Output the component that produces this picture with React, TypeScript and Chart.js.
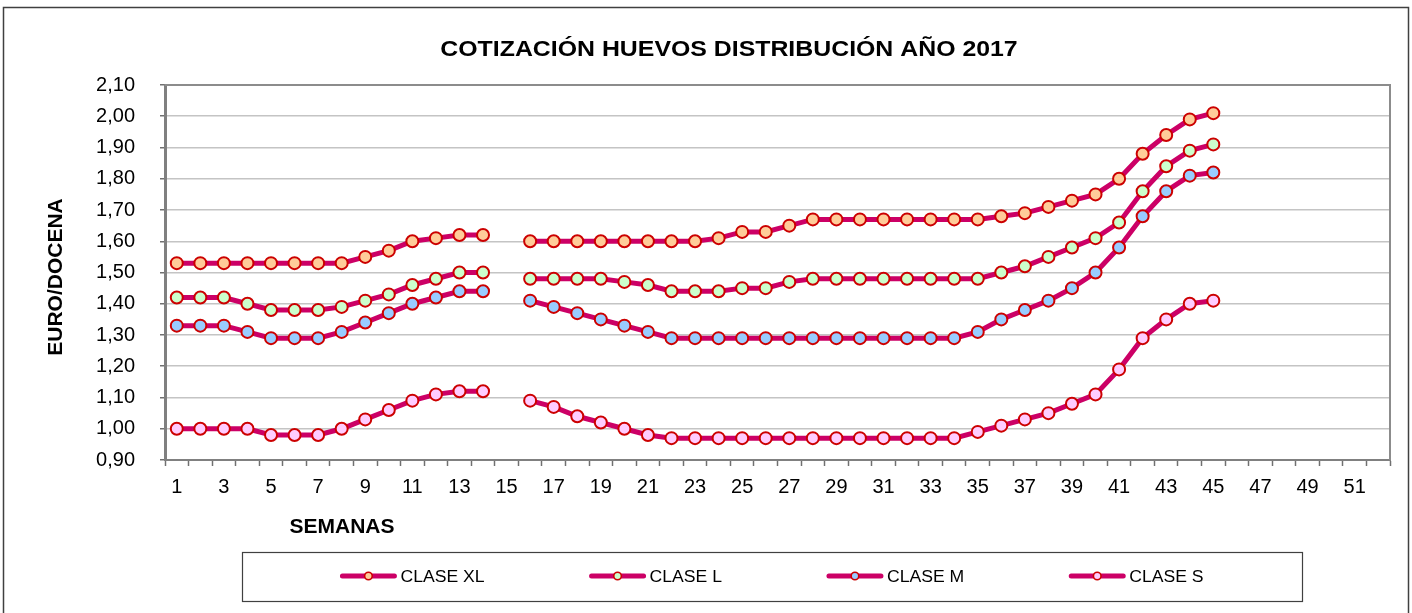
import React, { useEffect, useRef } from 'react';
import { Chart, registerables } from 'chart.js';

Chart.register(...registerables);

const TITLE = 'COTIZACIÓN HUEVOS DISTRIBUCIÓN AÑO 2017';
const Y_TITLE = 'EURO/DOCENA';
const X_TITLE = 'SEMANAS';

const WEEKS = [
  '1', '2', '3', '4', '5', '6', '7', '8', '9', '10', '11', '12', '13',
  '14', '15', '16', '17', '18', '19', '20', '21', '22', '23', '24', '25', '26',
  '27', '28', '29', '30', '31', '32', '33', '34', '35', '36', '37', '38', '39',
  '40', '41', '42', '43', '44', '45', '46', '47', '48', '49', '50', '51', '52',
];

const SERIES_NAMES = ['CLASE XL', 'CLASE L', 'CLASE M', 'CLASE S'];

const CLASE_XL = [
  1.53, 1.53, 1.53, 1.53, 1.53, 1.53, 1.53, 1.53, 1.55, 1.57, 1.6, 1.61, 1.62, 1.62,
  null,
  1.6, 1.6, 1.6, 1.6, 1.6, 1.6, 1.6, 1.6, 1.61, 1.63, 1.63, 1.65, 1.67, 1.67, 1.67,
  1.67, 1.67, 1.67, 1.67, 1.67, 1.68, 1.69, 1.71, 1.73, 1.75, 1.8, 1.88, 1.94, 1.99, 2.01,
];
const CLASE_L = [
  1.42, 1.42, 1.42, 1.4, 1.38, 1.38, 1.38, 1.39, 1.41, 1.43, 1.46, 1.48, 1.5, 1.5,
  null,
  1.48, 1.48, 1.48, 1.48, 1.47, 1.46, 1.44, 1.44, 1.44, 1.45, 1.45, 1.47, 1.48, 1.48, 1.48,
  1.48, 1.48, 1.48, 1.48, 1.48, 1.5, 1.52, 1.55, 1.58, 1.61, 1.66, 1.76, 1.84, 1.89, 1.91,
];
const CLASE_M = [
  1.33, 1.33, 1.33, 1.31, 1.29, 1.29, 1.29, 1.31, 1.34, 1.37, 1.4, 1.42, 1.44, 1.44,
  null,
  1.41, 1.39, 1.37, 1.35, 1.33, 1.31, 1.29, 1.29, 1.29, 1.29, 1.29, 1.29, 1.29, 1.29, 1.29,
  1.29, 1.29, 1.29, 1.29, 1.31, 1.35, 1.38, 1.41, 1.45, 1.5, 1.58, 1.68, 1.76, 1.81, 1.82,
];
const CLASE_S = [
  1.0, 1.0, 1.0, 1.0, 0.98, 0.98, 0.98, 1.0, 1.03, 1.06, 1.09, 1.11, 1.12, 1.12,
  null,
  1.09, 1.07, 1.04, 1.02, 1.0, 0.98, 0.97, 0.97, 0.97, 0.97, 0.97, 0.97, 0.97, 0.97, 0.97,
  0.97, 0.97, 0.97, 0.97, 0.99, 1.01, 1.03, 1.05, 1.08, 1.11, 1.19, 1.29, 1.35, 1.4, 1.41,
];

const Y_MIN = 0.9;
const Y_MAX = 2.1;
const Y_STEP = 0.1;

const LINE_COLOR = '#cc0066';
const POINT_BORDER = '#cc0000';
const FILLS = ['#ffcc99', '#ccffcc', '#99ccff', '#ffccff'];
const FONT = '"Liberation Sans", Arial, Helvetica, sans-serif';

function drawText(
  ctx: CanvasRenderingContext2D,
  text: string,
  x: number,
  y: number,
  font: string,
  align: 'left' | 'center' | 'right',
  sx: number
) {
  ctx.save();
  ctx.font = font;
  ctx.textBaseline = 'alphabetic';
  ctx.textAlign = 'left';
  const w = ctx.measureText(text).width * sx;
  const left = align === 'center' ? x - w / 2 : align === 'right' ? x - w : x;
  ctx.translate(left, y);
  ctx.scale(sx, 1);
  ctx.fillStyle = '#000';
  ctx.fillText(text, 0, 0);
  ctx.restore();
  return w;
}

const decorPlugin = {
  id: 'decor',
  beforeDatasetsDraw(chart: any) {
    const { ctx, chartArea } = chart;
    ctx.save();
    ctx.strokeStyle = '#8c8c8c';
    ctx.lineWidth = 2;
    ctx.beginPath();
    ctx.moveTo(chartArea.left, chartArea.top);
    ctx.lineTo(chartArea.right, chartArea.top);
    ctx.lineTo(chartArea.right, chartArea.bottom);
    ctx.stroke();
    ctx.restore();
  },
  afterDraw(chart: any) {
    const { ctx } = chart;
    // outer frame
    ctx.save();
    ctx.strokeStyle = '#404040';
    ctx.lineWidth = 1.5;
    ctx.strokeRect(3.5, 7.5, 1405, 700);
    ctx.restore();

    // title
    drawText(ctx, TITLE, 729, 56, `bold 22px ${FONT}`, 'center', 1.13);

    // y axis title
    ctx.save();
    ctx.translate(62, 277);
    ctx.rotate(-Math.PI / 2);
    ctx.font = `bold 21px ${FONT}`;
    ctx.textAlign = 'center';
    ctx.textBaseline = 'alphabetic';
    ctx.fillStyle = '#000';
    ctx.fillText(Y_TITLE, 0, 0);
    ctx.restore();

    // x axis title
    drawText(ctx, X_TITLE, 342, 533, `bold 21px ${FONT}`, 'center', 1);

    // legend
    const boxL = 242, boxR = 1302, boxT = 552, boxB = 601;
    ctx.save();
    ctx.strokeStyle = '#404040';
    ctx.lineWidth = 1.2;
    ctx.strokeRect(boxL + 0.5, boxT + 0.5, boxR - boxL, boxB - boxT);
    ctx.restore();

    const legendFont = `16px ${FONT}`;
    const sx = 1.1;
    const lineLen = 56;
    const gapText = 4;
    const gapItems = 105;
    ctx.save();
    ctx.font = legendFont;
    const ds = chart.data.datasets;
    const widths = ds.map((d: any) => lineLen + gapText + ctx.measureText(d.label).width * sx);
    ctx.restore();
    const total = widths.reduce((a: number, b: number) => a + b, 0) + gapItems * (ds.length - 1);
    let x = (boxL + boxR) / 2 - total / 2;
    const cy = 576;
    ds.forEach((d: any, i: number) => {
      ctx.save();
      ctx.strokeStyle = d.borderColor;
      ctx.lineWidth = 5;
      ctx.lineCap = 'round';
      ctx.beginPath();
      ctx.moveTo(x + 2, cy);
      ctx.lineTo(x + lineLen - 2, cy);
      ctx.stroke();
      ctx.beginPath();
      ctx.arc(x + lineLen / 2, cy, 3.8, 0, Math.PI * 2);
      ctx.fillStyle = d.pointBackgroundColor;
      ctx.fill();
      ctx.strokeStyle = d.pointBorderColor;
      ctx.lineWidth = 1.6;
      ctx.stroke();
      ctx.restore();
      drawText(ctx, d.label, x + lineLen + gapText, cy + 6, legendFont, 'left', sx);
      x += widths[i] + gapItems;
    });
  },
};

function makeDataset(label: string, data: (number | null)[], fill: string) {
  return {
    label,
    data,
    borderColor: LINE_COLOR,
    backgroundColor: fill,
    borderWidth: 5,
    pointRadius: 6,
    pointBorderWidth: 2,
    pointBorderColor: POINT_BORDER,
    pointBackgroundColor: fill,
    spanGaps: false,
    tension: 0,
    fill: false,
  };
}

export default function App() {
  const ref = useRef<HTMLCanvasElement | null>(null);

  useEffect(() => {
    document.body.style.margin = '0';
    const canvas = ref.current;
    if (!canvas) return;
    const chart = new Chart(canvas, {
      type: 'line',
      data: {
        labels: WEEKS,
        datasets: [
          makeDataset(SERIES_NAMES[0], CLASE_XL, FILLS[0]),
          makeDataset(SERIES_NAMES[1], CLASE_L, FILLS[1]),
          makeDataset(SERIES_NAMES[2], CLASE_M, FILLS[2]),
          makeDataset(SERIES_NAMES[3], CLASE_S, FILLS[3]),
        ],
      },
      options: {
        responsive: false,
        animation: false,
        devicePixelRatio: 1,
        layout: {
          autoPadding: false,
          padding: { left: 0, top: 85, right: 22, bottom: 113 },
        },
        plugins: {
          legend: { display: false },
          title: { display: false },
          tooltip: { enabled: false },
        },
        scales: {
          x: {
            type: 'category',
            offset: true,
            afterFit: (s: any) => {
              s.height = 40;
            },
            grid: {
              offset: true,
              drawOnChartArea: false,
              drawTicks: true,
              tickLength: 6,
              tickColor: '#707070',
              tickWidth: 1.5,
            },
            border: { display: true, color: '#808080', width: 2 },
            ticks: {
              autoSkip: false,
              maxRotation: 0,
              minRotation: 0,
              padding: 9,
              color: '#000',
              font: { family: FONT, size: 20 },
              callback: (_v: any, i: number) => (i % 2 === 0 ? WEEKS[i] : ''),
            },
          },
          y: {
            min: Y_MIN,
            max: Y_MAX,
            afterFit: (s: any) => {
              s.width = 165;
            },
            grid: {
              color: '#c4c4c4',
              lineWidth: 1.5,
              drawTicks: true,
              tickLength: 5,
              tickColor: '#707070',
              tickWidth: 1.5,
            },
            border: { display: true, color: '#808080', width: 3 },
            ticks: {
              stepSize: Y_STEP,
              padding: 25,
              color: '#000',
              font: { family: FONT, size: 20 },
              callback: (v: any) => Number(v).toFixed(2).replace('.', ','),
            },
          },
        },
      },
      plugins: [decorPlugin],
    } as any);
    return () => chart.destroy();
  }, []);

  return (
    <div style={{ position: 'absolute', left: 0, top: 0, width: 1412, height: 613, background: '#fff' }}>
      <canvas ref={ref} width={1412} height={613} style={{ display: 'block' }} />
    </div>
  );
}
